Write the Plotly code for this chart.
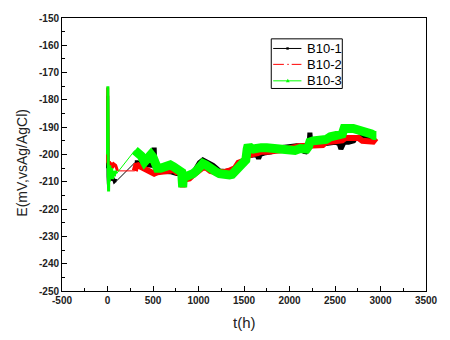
import plotly.graph_objects as go

# ---- data ----
# B10-1 (black)
b1_t_early = [0, 2, 4, 6, 10, 15, 25, 35, 45, 60, 75, 90, 102]
b1_e_early = [-205, -178.5, -195, -208, -211, -206.5, -209, -207.5, -209.5, -208.5, -210, -209.5, -209.6]
b1_t = [300, 330, 370, 441, 490, 505, 513, 520, 560, 620, 690, 760, 797, 815, 826, 835, 869, 900, 940,
        976, 1010, 1048, 1080, 1119, 1160, 1190, 1230, 1300, 1369, 1400, 1439, 1493, 1520, 1545, 1580,
        1640, 1660, 1680, 1720, 1800, 1903, 1950, 2010, 2080, 2152, 2170, 2190, 2215, 2224, 2235, 2300,
        2400, 2500, 2545, 2565, 2580, 2600, 2650, 2705, 2723, 2780, 2830, 2900, 2950]
b1_e = [-203, -203, -203.5, -204, -204, -203, -197.5, -204.5, -205.5, -206.2, -206.3, -207, -207, -207.5,
        -211, -208.5, -208.8, -208.7, -207, -204.5, -203, -202, -202.5, -203, -204, -204.8, -206, -206.2,
        -206, -205.5, -203.5, -202.5, -202, -200.5, -200.3, -200, -201.5, -200, -199.5, -199, -197.5,
        -197.2, -197, -196.8, -197, -199.5, -198.5, -197, -192, -196, -196, -196, -195.5, -196, -198,
        -196.2, -195.5, -195.5, -195, -194, -193.5, -193.8, -193.5, -193.5]

# B10-2 (red)
b2_t_early = [0, 2, 4, 6, 12, 20, 30, 40, 55, 70, 90, 110]
b2_e_early = [-203, -175.5, -185, -203, -204.5, -202.5, -204.5, -203, -205, -203.5, -204, -206]
b2_t = [300, 320, 334, 370, 441, 480, 513, 550, 620, 680, 727, 760, 797, 815, 826, 835, 869, 900, 940,
        976, 1010, 1048, 1090, 1130, 1190, 1250, 1300, 1350, 1400, 1439, 1493, 1520, 1540, 1564, 1600,
        1652, 1689, 1760, 1832, 1900, 2000, 2100, 2200, 2260, 2366, 2402, 2500, 2580, 2616, 2700, 2759,
        2800, 2870, 2919, 2950]
b2_e = [-206, -203.5, -204, -204.5, -205.6, -206.5, -207, -206.5, -206.5, -206, -205.7, -206.5, -206.5,
        -207, -212, -208.5, -209, -208.8, -207.5, -206.5, -205.5, -204.8, -205, -206, -206.5, -206.5,
        -206.3, -205.8, -205, -203, -202.3, -202, -200.5, -200, -199.8, -199.5, -199, -199, -199, -198.5,
        -197.8, -197, -196.8, -196.5, -196.5, -195.5, -195, -194.8, -194, -193.8, -194, -195, -195.5,
        -195.3, -194]

# B10-3 (green)
b3_t_early = [0, 2, 4, 6, 8, 12, 16, 20, 25, 35, 45, 55, 65, 75, 85, 100]
b3_e_early = [-200, -176, -175, -190, -207, -213.5, -205, -210, -204, -208, -205, -209, -206, -208, -206, -207]
b3_t = [300, 316, 340, 370, 406, 440, 477, 500, 520, 548, 583, 620, 655, 690, 727, 760, 797, 815, 826,
        835, 869, 900, 940, 976, 1010, 1048, 1080, 1120, 1160, 1190, 1230, 1262, 1300, 1340, 1369, 1400,
        1439, 1470, 1493, 1520, 1535, 1546, 1560, 1600, 1650, 1689, 1750, 1832, 1880, 1939, 2010, 2060,
        2117, 2152, 2188, 2210, 2224, 2260, 2300, 2350, 2402, 2450, 2500, 2550, 2580, 2600, 2616, 2660,
        2700, 2759, 2800, 2866, 2901, 2930, 2955]
b3_e = [-198.5, -199, -198.8, -200.5, -202.7, -201.5, -200, -201, -203.5, -205, -205, -204.8, -204.5,
        -203.8, -204.5, -205, -205.8, -206.5, -212, -207.5, -208, -207.8, -207, -206, -204.5, -203.3,
        -203.8, -205, -206, -206.3, -207, -207.4, -207.5, -207.5, -207.3, -206.2, -204.2, -203.5, -203,
        -202, -198, -196.5, -197.5, -198, -197.5, -197.5, -197.5, -197.8, -198, -198.4, -199, -198.5,
        -197.8, -198, -198, -197, -195.4, -195, -195, -195.2, -194.5, -193.5, -193.3, -193, -192.5,
        -190.5, -190.3, -190.5, -190.5, -191, -191.2, -191.5, -192.5, -193, -193]

names = ["B10-1", "B10-2", "B10-3"]
colors = ["#000000", "#ff0000", "#00ff00"]

x_tickvals = [-500, 0, 500, 1000, 1500, 2000, 2500, 3000, 3500]
x_ticktext = ["-500", "0", "500", "1000", "1500", "2000", "2500", "3000", "3500"]
y_tickvals = [-250, -240, -230, -220, -210, -200, -190, -180, -170, -160, -150]
y_ticktext = ["-250", "-240", "-230", "-220", "-210", "-200", "-190", "-180", "-170", "-160", "-150"]

series = [
    (b1_t_early, b1_e_early, b1_t, b1_e, 5),
    (b2_t_early, b2_e_early, b2_t, b2_e, 6),
    (b3_t_early, b3_e_early, b3_t, b3_e, 9),
]

fig = go.Figure()
for (te, ee, tm, em, w), col in zip(series, colors):
    fig.add_trace(go.Scatter(x=te, y=ee, mode="lines", line=dict(color=col, width=3),
                             showlegend=False, hoverinfo="skip"))
    fig.add_trace(go.Scatter(x=[te[-1], tm[0]], y=[ee[-1], em[0]], mode="lines",
                             line=dict(color=col, width=1), showlegend=False, hoverinfo="skip"))
    fig.add_trace(go.Scatter(x=tm, y=em, mode="lines", line=dict(color=col, width=w),
                             showlegend=False, hoverinfo="skip"))

FONT = "Arial, Liberation Sans"
axis_common = dict(showgrid=False, zeroline=False, showline=True, linecolor="black", linewidth=1,
                   mirror=True, ticks="inside", ticklen=5, tickcolor="black",
                   tickfont=dict(family=FONT, size=10, color="#222", weight="bold"))

fig.update_xaxes(range=[-500, 3500], tickmode="array", tickvals=x_tickvals, ticktext=x_ticktext,
                 minor=dict(ticks="inside", ticklen=3, dtick=250, tick0=-500, tickcolor="black"),
                 **axis_common)
fig.update_yaxes(range=[-250, -150], tickmode="array", tickvals=y_tickvals, ticktext=y_ticktext,
                 minor=dict(ticks="inside", ticklen=3, dtick=5, tick0=-250, tickcolor="black"),
                 **axis_common)

fig.add_annotation(text="E(mV,vsAg/AgCl)", xref="paper", yref="paper", x=-0.11, y=0.47,
                   xanchor="center", yanchor="middle", textangle=-90, showarrow=False,
                   font=dict(family=FONT, size=14, color="#222"))
fig.add_annotation(text="t(h)", xref="paper", yref="paper", x=0.5, y=-0.117,
                   xanchor="center", yanchor="middle", showarrow=False,
                   font=dict(family=FONT, size=15, color="#222"))

# ---- hand-drawn legend box (paper coordinates from pixel layout) ----
L, R, T, B, W, H = 62, 436, 16, 291, 374, 275
def px(x):
    return (x - L) / W
def py(y):
    return (B - y) / H

fig.add_shape(type="rect", xref="paper", yref="paper", x0=px(277), x1=px(350), y0=py(87), y1=py(37),
              line=dict(color="black", width=1), fillcolor="white", layer="above")
row_y = [46.7, 62.7, 79.3]
for i, (nm, col) in enumerate(zip(names, colors)):
    yy = py(row_y[i])
    if i == 1:
        for a, b in [(279, 290), (293.5, 295), (298, 308)]:
            fig.add_shape(type="line", xref="paper", yref="paper", x0=px(a), x1=px(b), y0=yy, y1=yy,
                          line=dict(color=col, width=1), layer="above")
    else:
        fig.add_shape(type="line", xref="paper", yref="paper", x0=px(279), x1=px(308), y0=yy, y1=yy,
                      line=dict(color=col, width=1), layer="above")
    if i == 0:
        fig.add_shape(type="rect", xref="paper", yref="paper", x0=px(292.5), x1=px(295), y0=py(row_y[i] + 1.2),
                      y1=py(row_y[i] - 1.2), line=dict(width=0), fillcolor=col, layer="above")
    if i == 2:
        fig.add_shape(type="path", xref="paper", yref="paper",
                      path=f"M {px(292)} {py(row_y[i] + 1.5)} L {px(296)} {py(row_y[i] + 1.5)} L {px(294)} {py(row_y[i] - 2)} Z",
                      line=dict(width=0), fillcolor=col, layer="above")
    fig.add_annotation(text=nm, xref="paper", yref="paper", x=px(312), y=yy, xanchor="left",
                       yanchor="middle", showarrow=False,
                       font=dict(family=FONT, size=13, color="black"))

fig.update_layout(
    width=450, height=340,
    margin=dict(l=62, r=14, t=16, b=49),
    paper_bgcolor="white", plot_bgcolor="white",
    showlegend=False,
)

fig.write_html("out.html")
